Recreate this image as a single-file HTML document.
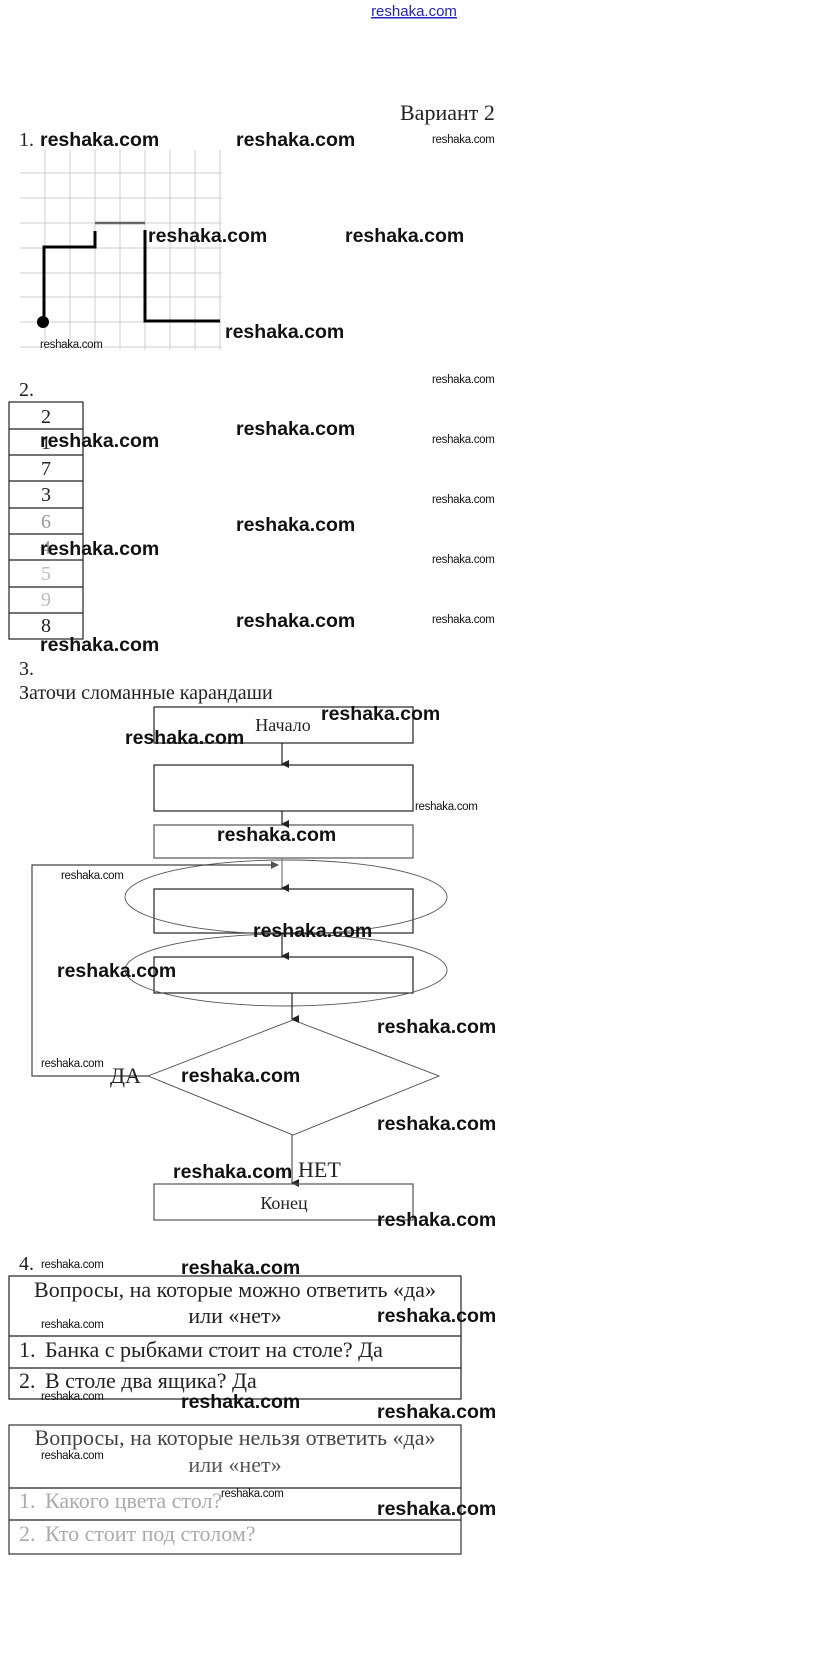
<!DOCTYPE html>
<html><head><meta charset="utf-8"><style>
html,body{margin:0;padding:0;background:#fff;}
svg{display:block;}
.s{font-family:"Liberation Serif","DejaVu Serif",serif;fill:#222;}
.w{font-family:"Liberation Sans","DejaVu Sans",sans-serif;font-weight:bold;font-size:19.5px;fill:#111;}
.m{font-family:"Liberation Sans","DejaVu Sans",sans-serif;font-size:11.5px;fill:#111;letter-spacing:-0.3px;}
</style></head><body>
<svg width="823" height="1670" viewBox="0 0 823 1670" xmlns="http://www.w3.org/2000/svg">
<defs><marker id="a" markerWidth="8" markerHeight="8" refX="4" refY="7" orient="auto" markerUnits="userSpaceOnUse"><path d="M0,0 L8,0 L4,8 z" fill="#222"/></marker>
<marker id="ar" markerWidth="8" markerHeight="8" refX="7" refY="4" orient="auto" markerUnits="userSpaceOnUse"><path d="M0,0 L8,4 L0,8 z" fill="#555"/></marker></defs>
<text x="414" y="16" text-anchor="middle" font-family="Liberation Sans,sans-serif" font-size="15" fill="#22c" text-decoration="underline">reshaka.com</text>

<!-- section 1 -->
<text class="s" x="400" y="120" font-size="22">Вариант 2</text>
<text class="s" x="19" y="146" font-size="20">1.</text>
<text class="w" x="40" y="146">reshaka.com</text>
<text class="w" x="236" y="146">reshaka.com</text>
<text class="m" x="432" y="143">reshaka.com</text>
<g stroke="#ccc" stroke-width="1">
<line x1="45" y1="150" x2="45" y2="350"/><line x1="70" y1="150" x2="70" y2="350"/><line x1="95" y1="150" x2="95" y2="350"/><line x1="120" y1="150" x2="120" y2="350"/><line x1="145" y1="150" x2="145" y2="350"/><line x1="170" y1="150" x2="170" y2="350"/><line x1="195" y1="150" x2="195" y2="350"/><line x1="220" y1="150" x2="220" y2="350"/>
<line x1="20" y1="173" x2="222" y2="173"/><line x1="20" y1="198" x2="222" y2="198"/><line x1="20" y1="223" x2="222" y2="223"/><line x1="20" y1="248" x2="222" y2="248"/><line x1="20" y1="273" x2="222" y2="273"/><line x1="20" y1="297" x2="222" y2="297"/><line x1="20" y1="322" x2="222" y2="322"/><line x1="20" y1="347" x2="222" y2="347"/>
</g>
<polyline points="44,322 44,247 95,247 95,231" fill="none" stroke="#000" stroke-width="3"/>
<polyline points="95,223 145,223" fill="none" stroke="#666" stroke-width="2.5"/>
<polyline points="145,230 145,321 220,321" fill="none" stroke="#000" stroke-width="3"/>
<circle cx="43" cy="322" r="6" fill="#000"/>
<text class="w" x="148" y="242">reshaka.com</text>
<text class="w" x="345" y="242">reshaka.com</text>
<text class="w" x="225" y="338">reshaka.com</text>
<text class="m" x="40" y="348">reshaka.com</text>

<!-- section 2 -->
<text class="s" x="19" y="396" font-size="20">2.</text>
<g fill="none" stroke="#222" stroke-width="1.2">
<rect x="9" y="402" width="74" height="237"/>
<line x1="9" y1="429" x2="83" y2="429"/><line x1="9" y1="455" x2="83" y2="455"/><line x1="9" y1="481" x2="83" y2="481"/><line x1="9" y1="508" x2="83" y2="508"/><line x1="9" y1="534" x2="83" y2="534"/><line x1="9" y1="560" x2="83" y2="560"/><line x1="9" y1="587" x2="83" y2="587"/><line x1="9" y1="613" x2="83" y2="613"/>
</g>
<g class="s" font-size="20" text-anchor="middle">
<text x="46" y="423">2</text><text x="46" y="449">1</text><text x="46" y="475">7</text><text x="46" y="501">3</text><text x="46" y="528" fill="#999">6</text><text x="46" y="554" fill="#999">4</text><text x="46" y="580" fill="#bbb">5</text><text x="46" y="606" fill="#bbb">9</text><text x="46" y="632">8</text>
</g>
<text class="w" x="40" y="447">reshaka.com</text>
<text class="w" x="40" y="555">reshaka.com</text>
<text class="w" x="40" y="651">reshaka.com</text>
<text class="w" x="236" y="435">reshaka.com</text>
<text class="w" x="236" y="531">reshaka.com</text>
<text class="w" x="236" y="627">reshaka.com</text>
<text class="m" x="432" y="383">reshaka.com</text>
<text class="m" x="432" y="443">reshaka.com</text>
<text class="m" x="432" y="503">reshaka.com</text>
<text class="m" x="432" y="563">reshaka.com</text>
<text class="m" x="432" y="623">reshaka.com</text>

<g transform="translate(0,-4)">
<!-- section 3 -->
<text class="s" x="19" y="679" font-size="20" fill="#555">3.</text>
<text class="s" x="19" y="703" font-size="20" fill="#444">Заточи сломанные карандаши</text>
<g fill="none" stroke="#222" stroke-width="1.2">
<rect x="154" y="711" width="259" height="36"/>
<rect x="154" y="769" width="259" height="46"/>
<rect x="154" y="829" width="259" height="33" stroke="#555"/>
<rect x="154" y="893" width="259" height="44"/>
<rect x="154" y="961" width="259" height="36"/>
<ellipse cx="286" cy="901" rx="161" ry="37" stroke="#555" stroke-width="0.9"/>
<ellipse cx="286" cy="974" rx="161" ry="36" stroke="#555" stroke-width="0.9"/>
<polygon points="293,1024 439,1080 293,1139 148,1080" stroke="#444" stroke-width="0.9"/>
<polyline points="148,1080 32,1080 32,869 278,869" stroke="#444" marker-end="url(#ar)"/>
<line x1="282" y1="747" x2="282" y2="768" marker-end="url(#a)"/>
<line x1="282" y1="815" x2="282" y2="828" marker-end="url(#a)"/>
<line x1="282" y1="862" x2="282" y2="892" stroke="#777" marker-end="url(#a)"/>
<line x1="282" y1="937" x2="282" y2="960" marker-end="url(#a)"/>
<line x1="292" y1="997" x2="292" y2="1023" marker-end="url(#a)"/>
<line x1="292" y1="1139" x2="292" y2="1187" stroke="#555" marker-end="url(#a)"/>
<rect x="154" y="1188" width="259" height="36" stroke="#555"/>
</g>
<text class="s" x="283" y="735" font-size="18" text-anchor="middle">Начало</text>
<text class="s" x="110" y="1087" font-size="22" fill="#444">ДА</text>
<text class="s" x="298" y="1181" font-size="22" fill="#777">НЕТ</text>
<text class="s" x="284" y="1213" font-size="18" text-anchor="middle" fill="#aaa">Конец</text>
<text class="w" x="321" y="724">reshaka.com</text>
<text class="w" x="125" y="748">reshaka.com</text>
<text class="m" x="415" y="814">reshaka.com</text>
<text class="w" x="217" y="845">reshaka.com</text>
<text class="m" x="61" y="883">reshaka.com</text>
<text class="w" x="253" y="941">reshaka.com</text>
<text class="w" x="57" y="981">reshaka.com</text>
<text class="w" x="377" y="1037">reshaka.com</text>
<text class="m" x="41" y="1071">reshaka.com</text>
<text class="w" x="181" y="1086">reshaka.com</text>
<text class="w" x="377" y="1134">reshaka.com</text>
<text class="w" x="173" y="1182">reshaka.com</text>
<text class="w" x="377" y="1230">reshaka.com</text>

<!-- section 4 -->
<text class="s" x="19" y="1274" font-size="20" fill="#444">4.</text>
<text class="m" x="41" y="1272">reshaka.com</text>
<text class="w" x="181" y="1278">reshaka.com</text>
<g fill="none" stroke="#222" stroke-width="1.2">
<rect x="9" y="1280" width="452" height="123"/>
<line x1="9" y1="1340" x2="461" y2="1340"/><line x1="9" y1="1372" x2="461" y2="1372"/>
<rect x="9" y="1429" width="452" height="129" stroke="#333"/>
<line x1="9" y1="1492" x2="461" y2="1492"/><line x1="9" y1="1524" x2="461" y2="1524"/>
</g>
<g class="s" font-size="22">
<text x="235" y="1301" text-anchor="middle">Вопросы, на которые можно ответить «да»</text>
<text x="235" y="1327" text-anchor="middle">или «нет»</text>
<text x="19" y="1361">1.</text><text x="45" y="1361">Банка с рыбками стоит на столе? Да</text>
<text x="19" y="1392">2.</text><text x="45" y="1392">В столе два ящика? Да</text>
<text x="235" y="1449" text-anchor="middle" fill="#444">Вопросы, на которые нельзя ответить «да»</text>
<text x="235" y="1476" text-anchor="middle" fill="#555">или «нет»</text>
<text x="19" y="1512" fill="#aaa">1.</text><text x="45" y="1512" fill="#aaa">Какого цвета стол?</text>
<text x="19" y="1545" fill="#aaa">2.</text><text x="45" y="1545" fill="#aaa">Кто стоит под столом?</text>
</g>
<text class="w" x="377" y="1326">reshaka.com</text>
<text class="m" x="41" y="1332">reshaka.com</text>
<text class="m" x="41" y="1404">reshaka.com</text>
<text class="w" x="181" y="1412">reshaka.com</text>
<text class="w" x="377" y="1422">reshaka.com</text>
<text class="m" x="41" y="1463">reshaka.com</text>
<text class="m" x="221" y="1501">reshaka.com</text>
<text class="w" x="377" y="1519">reshaka.com</text>
</g>
</svg>
</body></html>
